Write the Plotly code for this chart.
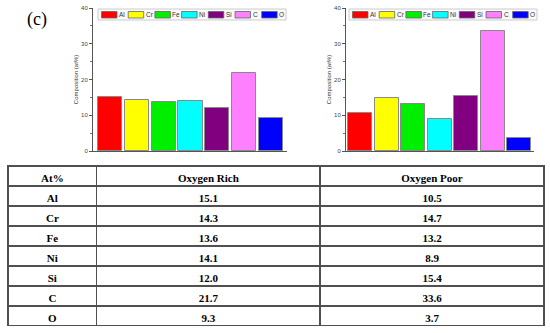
import plotly.graph_objects as go

elements = ["Al", "Cr", "Fe", "Ni", "Si", "C", "O"]
oxygen_rich = [15.1, 14.3, 13.6, 14.1, 12.0, 21.7, 9.3]
oxygen_poor = [10.5, 14.7, 13.2, 8.9, 15.4, 33.6, 3.7]
rich_labels = ["15.1", "14.3", "13.6", "14.1", "12.0", "21.7", "9.3"]
poor_labels = ["10.5", "14.7", "13.2", "8.9", "15.4", "33.6", "3.7"]
header = ["At%", "Oxygen Rich", "Oxygen Poor"]
colors = ["#ff0000", "#ffff00", "#00ee00", "#00ffff", "#800080", "#ff80ff", "#0000ff"]

W, H = 550, 333


def px(x):
    return x / W


def py(y):
    return 1 - y / H


fig = go.Figure()

fig.add_trace(go.Bar(x=elements, y=oxygen_rich, marker=dict(color=colors, line=dict(color="#8a8a8a", width=1)),
                     width=0.9, xaxis="x", yaxis="y", showlegend=False))
fig.add_trace(go.Bar(x=elements, y=oxygen_poor, marker=dict(color=colors, line=dict(color="#8a8a8a", width=1)),
                     width=0.9, xaxis="x2", yaxis="y2", showlegend=False))

fig.add_trace(go.Table(
    domain=dict(x=[px(8), px(544)], y=[py(326), py(166)]),
    columnwidth=[88.7, 223.3, 224],
    header=dict(values=header, height=20, align="center",
                line=dict(color="#505050", width=1.2), fill=dict(color="white"),
                font=dict(family="Liberation Serif", size=11, color="black", weight="bold")),
    cells=dict(values=[elements, rich_labels, poor_labels], height=20, align="center",
               line=dict(color="#505050", width=1.2), fill=dict(color="white"),
               font=dict(family="Liberation Serif", size=11, color="black", weight="bold")),
))

axis_common_y = dict(range=[0, 40], dtick=10, ticks="outside", ticklen=3, tickwidth=1, tickcolor="#555",
                     tickfont=dict(size=6, color="#444", family="Arial"), showline=True, linecolor="#555",
                     linewidth=1, showgrid=False, zeroline=False, automargin=False,
                     minor=dict(ticks="outside", ticklen=2, dtick=5, tickcolor="#777"),
                     title=dict(text="Composition (at%)", font=dict(size=6, color="#333", family="Arial"), standoff=2))
axis_common_x = dict(showticklabels=False, ticks="", showline=True, linecolor="#555", linewidth=1,
                     showgrid=False, zeroline=False, automargin=False)

fig.update_layout(
    width=W, height=H, margin=dict(l=0, r=0, t=0, b=0),
    paper_bgcolor="white", plot_bgcolor="white",
    xaxis=dict(domain=[px(93), px(287)], range=[-0.64, 6.6], anchor="y", **axis_common_x),
    yaxis=dict(domain=[py(151), py(8)], anchor="x", **axis_common_y),
    xaxis2=dict(domain=[px(346), px(534)], range=[-0.53, 6.55], anchor="y2", **axis_common_x),
    yaxis2=dict(domain=[py(151), py(8)], anchor="x2", **axis_common_y),
    bargap=0,
)

shapes = []
annotations = []
for box_left, box_right in [(98, 286), (349, 537)]:
    shapes.append(dict(type="rect", xref="paper", yref="paper", x0=px(box_left), x1=px(box_right),
                       y0=py(20), y1=py(9), line=dict(color="#cccccc", width=1), fillcolor="#fafafa",
                       layer="below"))
    for i, (name, col) in enumerate(zip(elements, colors)):
        x0 = box_left + 3.5 + i * 26.7
        shapes.append(dict(type="rect", xref="paper", yref="paper", x0=px(x0), x1=px(x0 + 15.5),
                           y0=py(18), y1=py(11.5), line=dict(color="#666", width=0.8), fillcolor=col,
                           layer="below"))
        annotations.append(dict(text=name, xref="paper", yref="paper", x=px(x0 + 16.5), y=py(14.8),
                                xanchor="left", yanchor="middle", showarrow=False, borderpad=0,
                                font=dict(size=6.5, color="#333", family="Arial")))

annotations.append(dict(text="(c)", xref="paper", yref="paper", x=px(37), y=py(20), xanchor="center",
                        yanchor="middle", showarrow=False,
                        font=dict(size=18, color="black", family="Liberation Serif")))

fig.update_layout(shapes=shapes, annotations=annotations)

fig.write_html("out.html", config={"displayModeBar": False},
               post_script="document.body.style.margin='0';document.body.style.overflow='hidden';")
